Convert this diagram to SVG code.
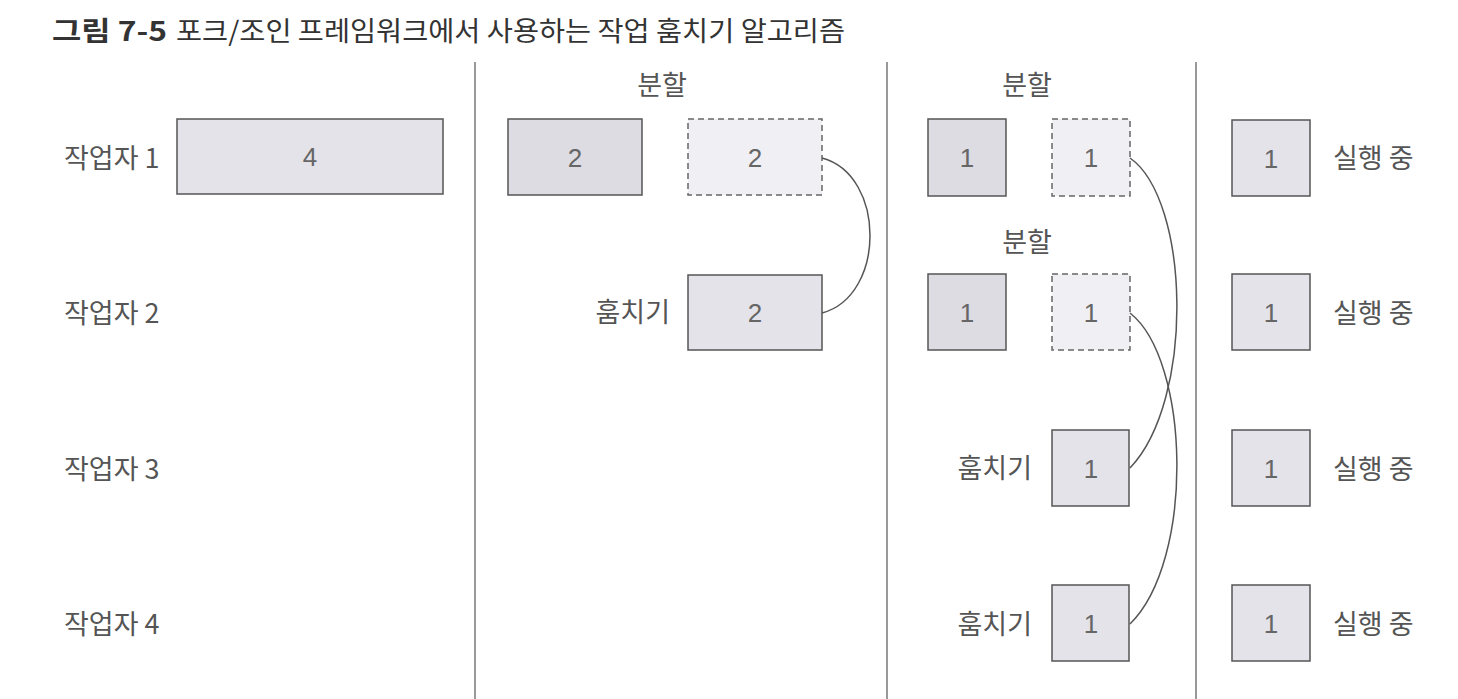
<svg xmlns="http://www.w3.org/2000/svg" width="1458" height="699" viewBox="0 0 1458 699">
<style>
text{font-family:"Noto Sans CJK KR","Noto Sans",sans-serif;}
.title{font-size:27px;fill:#333;}
.lbl{font-size:27px;fill:#555;}
.num{font-size:26px;fill:#666;text-anchor:middle;font-family:"Liberation Sans","Noto Sans",sans-serif;}
.solid{fill:#dcdce2;stroke:#555;stroke-width:1.5;}
.mid{fill:#e3e3e9;stroke:#555;stroke-width:1.5;}
.dash{fill:#f0f0f4;stroke:#666;stroke-width:1.5;stroke-dasharray:6 4;}
.sep{stroke:#777;stroke-width:1.5;}
.conn{fill:none;stroke:#555;stroke-width:1.5;}
</style>
<rect width="1458" height="699" fill="#fff"/>
<g id="title">
<text class="title" x="52" y="41" font-weight="bold" textLength="115" lengthAdjust="spacingAndGlyphs">그림 7-5</text>
<text class="title" x="176" y="41" textLength="669" lengthAdjust="spacingAndGlyphs">포크/조인 프레임워크에서 사용하는 작업 훔치기 알고리즘</text>
</g>
<g id="separators">
<line class="sep" x1="475" y1="62" x2="475" y2="699"/>
<line class="sep" x1="887" y1="62" x2="887" y2="699"/>
<line class="sep" x1="1196" y1="62" x2="1196" y2="699"/>
</g>
<g id="workers">
<text class="lbl" x="64" y="168">작업자 1</text>
<text class="lbl" x="64" y="323">작업자 2</text>
<text class="lbl" x="64" y="479">작업자 3</text>
<text class="lbl" x="64" y="634">작업자 4</text>
</g>
<g id="col1">
<g id="t4"><rect class="mid" x="177" y="119" width="266" height="75"/><text class="num" x="310" y="166">4</text></g>
</g>
<g id="col2">
<text class="lbl" x="662" y="95" text-anchor="middle">분할</text>
<g id="c2a"><rect class="solid" x="508" y="119" width="134" height="76"/><text class="num" x="575" y="167">2</text></g>
<g id="c2b"><rect class="dash" x="688" y="119" width="134" height="76"/><text class="num" x="755" y="167">2</text></g>
<text class="lbl" x="670" y="322" text-anchor="end">훔치기</text>
<g id="c2c"><rect class="mid" x="688" y="275" width="134" height="75"/><text class="num" x="755" y="322">2</text></g>
</g>
<g id="col3">
<text class="lbl" x="1027" y="95" text-anchor="middle">분할</text>
<g id="c3a"><rect class="solid" x="928" y="119" width="78" height="77"/><text class="num" x="967" y="167">1</text></g>
<g id="c3b"><rect class="dash" x="1052" y="119" width="78" height="77"/><text class="num" x="1091" y="167">1</text></g>
<text class="lbl" x="1027" y="252" text-anchor="middle">분할</text>
<g id="c3c"><rect class="solid" x="928" y="274" width="78" height="76"/><text class="num" x="967" y="322">1</text></g>
<g id="c3d"><rect class="dash" x="1052" y="274" width="78" height="76"/><text class="num" x="1091" y="322">1</text></g>
<text class="lbl" x="1032" y="478" text-anchor="end">훔치기</text>
<g id="c3e"><rect class="mid" x="1052" y="430" width="77" height="76"/><text class="num" x="1091" y="478">1</text></g>
<text class="lbl" x="1032" y="634" text-anchor="end">훔치기</text>
<g id="c3f"><rect class="mid" x="1052" y="585" width="77" height="76"/><text class="num" x="1091" y="633">1</text></g>
</g>
<g id="col4">
<g id="r1"><rect class="mid" x="1232" y="120" width="78" height="76"/><text class="num" x="1271" y="168">1</text><text class="lbl" x="1333" y="168">실행 중</text></g>
<g id="r2"><rect class="mid" x="1232" y="274" width="78" height="76"/><text class="num" x="1271" y="322">1</text><text class="lbl" x="1333" y="323">실행 중</text></g>
<g id="r3"><rect class="mid" x="1232" y="430" width="78" height="76"/><text class="num" x="1271" y="478">1</text><text class="lbl" x="1333" y="479">실행 중</text></g>
<g id="r4"><rect class="mid" x="1232" y="585" width="78" height="76"/><text class="num" x="1271" y="633">1</text><text class="lbl" x="1333" y="634">실행 중</text></g>
</g>
<g id="connectors">
<path class="conn" d="M822,158 C886,175 886,296 822,313"/>
<path class="conn" d="M1130,158 C1190,200 1195,400 1130,468"/>
<path class="conn" d="M1130,313 C1190,360 1195,560 1130,624"/>
</g>
</svg>
